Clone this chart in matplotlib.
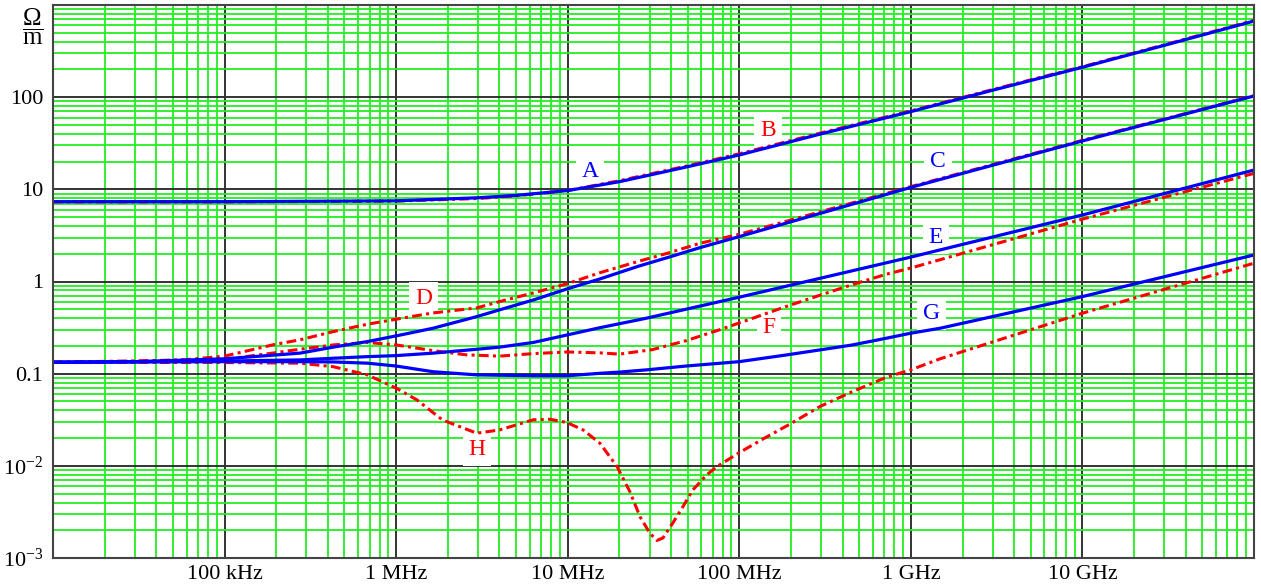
import numpy as np
import matplotlib
matplotlib.use('Agg')
import matplotlib.pyplot as plt
from matplotlib.ticker import LogLocator, NullFormatter

plt.rcParams['font.family'] = ['Liberation Serif', 'DejaVu Serif']
plt.rcParams['mathtext.fontset'] = 'custom'
plt.rcParams['mathtext.rm'] = 'Liberation Serif'
plt.rcParams['mathtext.it'] = 'Liberation Serif:italic'

# frequency in Hz, impedance per length in Ohm/m
f_A = [1e4, 1e5, 1e6, 3e6, 5e6, 1e7, 2e7, 5e7, 1e8, 3e8, 1e9, 3e9, 1e10, 3e10, 1e11]
z_A = [7.35, 7.35, 7.5, 8.1, 8.6, 9.7, 12.1, 17.6, 23.6, 40, 69.7, 119, 211, 365, 670]

f_B = [1e4, 1e5, 1e6, 3e6, 5e6, 1e7, 2e7, 5e7, 1e8, 3e8, 1e9, 3e9, 1e10, 3e10, 1e11]
z_B = [7.3, 7.3, 7.45, 7.95, 8.5, 9.7, 12.4, 18.0, 24.3, 41, 71, 121, 214, 370, 680]

f_C = [1e4, 3e4, 1e5, 2.75e5, 4.3e5, 6.8e5, 1e6, 1.64e6, 2.95e6, 4e6, 6.3e6, 1e7,
       1.55e7, 2.6e7, 3.9e7, 5.9e7, 1e8, 1e9, 1e10, 1e11]
z_C = [0.133, 0.135, 0.145, 0.167, 0.194, 0.223, 0.257, 0.311, 0.416, 0.492, 0.63, 0.835,
       1.07, 1.47, 1.84, 2.33, 3.07, 10.5, 33.5, 103]

f_D = [1e4, 3e4, 6e4, 1e5, 1.9e5, 2.75e5, 4.3e5, 6.8e5, 1e6, 1.64e6, 2.95e6, 4e6, 6.3e6,
       1e7, 1.55e7, 2.6e7, 3.9e7, 5.9e7, 1e8, 1e9, 1e10, 1e11]
z_D = [0.133, 0.135, 0.142, 0.155, 0.205, 0.233, 0.286, 0.344, 0.39, 0.456, 0.517, 0.605, 0.752,
       0.95, 1.25, 1.66, 2.05, 2.6, 3.25, 10.7, 34, 104]

f_E = [1e4, 1e5, 2.75e5, 4.3e5, 6.8e5, 1e6, 1.64e6, 2.95e6, 4e6, 6.3e6, 1e7, 1.55e7,
       2.88e7, 1e8, 1e9, 1e10, 1e11]
z_E = [0.133, 0.137, 0.141, 0.147, 0.153, 0.157, 0.167, 0.184, 0.194, 0.218, 0.264, 0.316,
       0.40, 0.676, 1.84, 5.27, 16.2]

f_F = [1e4, 1e5, 1.9e5, 2.75e5, 4.3e5, 6.8e5, 1e6, 1.64e6, 2.57e6, 4e6, 6.3e6, 1e7,
       1.55e7, 2e7, 3.1e7, 4.9e7, 7.7e7, 1e8, 1.9e8, 3.16e8, 4.6e8, 7.2e8, 1e9, 1e10, 1e11]
z_F = [0.133, 0.143, 0.167, 0.184, 0.205, 0.218, 0.205, 0.178, 0.16, 0.155, 0.165, 0.172,
       0.168, 0.163, 0.182, 0.228, 0.30, 0.355, 0.54, 0.74, 0.93, 1.2, 1.4, 4.75, 14.9]

f_G = [1e4, 1e5, 2.75e5, 4.3e5, 6.8e5, 1e6, 1.64e6, 2.95e6, 6.3e6, 1e7, 1.55e7, 2e7, 2.88e7,
       4.9e7, 1e8, 1.9e8, 2.95e8, 4.57e8, 7.24e8, 1e9, 1.48e9, 1e10, 1e11]
z_G = [0.133, 0.135, 0.135, 0.134, 0.13, 0.121, 0.105, 0.097, 0.095, 0.095, 0.101, 0.104, 0.11,
       0.121, 0.135, 0.16, 0.181, 0.205, 0.243, 0.275, 0.311, 0.686, 1.94]

f_H = [1e4, 1e5, 2.75e5, 4.3e5, 6.8e5, 1e6, 1.32e6, 1.86e6, 2.95e6, 4e6, 6.3e6, 7.9e6, 9.9e6,
       1.23e7, 1.54e7, 1.94e7, 2.3e7, 2.64e7, 3.01e7, 3.31e7, 3.59e7, 4.1e7, 4.69e7, 5.37e7,
       6.47e7, 7.4e7, 1e8, 1.37e8, 1.97e8, 2.95e8, 4.57e8, 7.24e8, 1e9, 1.48e9, 1e10, 1e11]
z_H = [0.133, 0.132, 0.13, 0.119, 0.097, 0.0697, 0.052, 0.0315, 0.0226, 0.0245, 0.0316, 0.032, 0.0295,
       0.0245, 0.0176, 0.0098, 0.00527, 0.0028, 0.00186, 0.00155, 0.00165, 0.0024, 0.0036, 0.0055,
       0.008, 0.0098, 0.0139, 0.0195, 0.0283, 0.044, 0.064, 0.0917, 0.11, 0.145, 0.453, 1.58]

x_ticks = [1e5, 1e6, 1e7, 1e8, 1e9, 1e10]
x_labels = ['100 kHz', '1 MHz', '10 MHz', '100 MHz', '1 GHz', '10 GHz']
y_ticks = [1e-3, 1e-2, 1e-1, 1, 10, 100]
y_labels = [r'$10^{-3}$', r'$10^{-2}$', '0.1', '1', '10', '100']

# curve names: (x, y) where the letter sits
names = ['A', 'B', 'C', 'D', 'E', 'F', 'G', 'H']
name_x = [1.35e7, 1.47e8, 1.44e9, 1.45e6, 1.40e9, 1.49e8, 1.32e9, 2.96e6]
name_y = [15.5, 44, 19.8, 0.66, 2.97, 0.314, 0.446, 0.0149]

blue = '#0000ff'
red = '#ff0000'

fig = plt.figure(figsize=(12.61, 5.88), dpi=100)
ax = fig.add_axes([53/1261, 30/588, 1201/1261, 553/588])
ax.set_xscale('log')
ax.set_yscale('log')

# red dash-dot curves first, blue solid ones on top
dd = (3.2, 1.4, 1.0, 1.4)
ax.plot(f_B, z_B, color=red, lw=2.2, dashes=dd)
ax.plot(f_D, z_D, color=red, lw=2.2, dashes=dd)
ax.plot(f_F, z_F, color=red, lw=2.2, dashes=dd)
ax.plot(f_H, z_H, color=red, lw=2.2, dashes=dd)
ax.plot(f_A, z_A, color=blue, lw=2.3)
ax.plot(f_C, z_C, color=blue, lw=2.3)
ax.plot(f_E, z_E, color=blue, lw=2.3)
ax.plot(f_G, z_G, color=blue, lw=2.3)

for i in range(len(names)):
    c = blue if names[i] in 'ACEG' else red
    ax.text(name_x[i], name_y[i], names[i], color=c, fontsize=17, ha='center', va='center',
            zorder=1.5, bbox=dict(boxstyle='square,pad=0.25', fc='white', ec='none'))

ax.xaxis.set_major_locator(LogLocator(base=10, numticks=20))
ax.yaxis.set_major_locator(LogLocator(base=10, numticks=20))
ax.xaxis.set_minor_locator(LogLocator(base=10, subs=np.arange(2, 10), numticks=20))
ax.yaxis.set_minor_locator(LogLocator(base=10, subs=np.arange(2, 10), numticks=20))
ax.xaxis.set_minor_formatter(NullFormatter())
ax.yaxis.set_minor_formatter(NullFormatter())
ax.set_axisbelow(True)
ax.grid(which='minor', color='#22ee22', lw=1.3)
ax.grid(which='major', color='#333333', lw=1.4)
ax.set_xticks(x_ticks, labels=x_labels)
ax.set_yticks(y_ticks, labels=y_labels)
ax.set_xlim(1e4, 1e11)
ax.set_ylim(1e-3, 1e3)
ax.tick_params(which='both', length=0, labelsize=16)
ax.tick_params(axis='x', pad=5)
ax.tick_params(axis='y', pad=7)
for s in ax.spines.values():
    s.set_color('#444444')
    s.set_linewidth(1.5)

fig.text(33/1261, 1-27/588, r'$\dfrac{\Omega}{\mathrm{m}}$', fontsize=18, ha='center', va='center')

fig.savefig('out.png', dpi=100)
